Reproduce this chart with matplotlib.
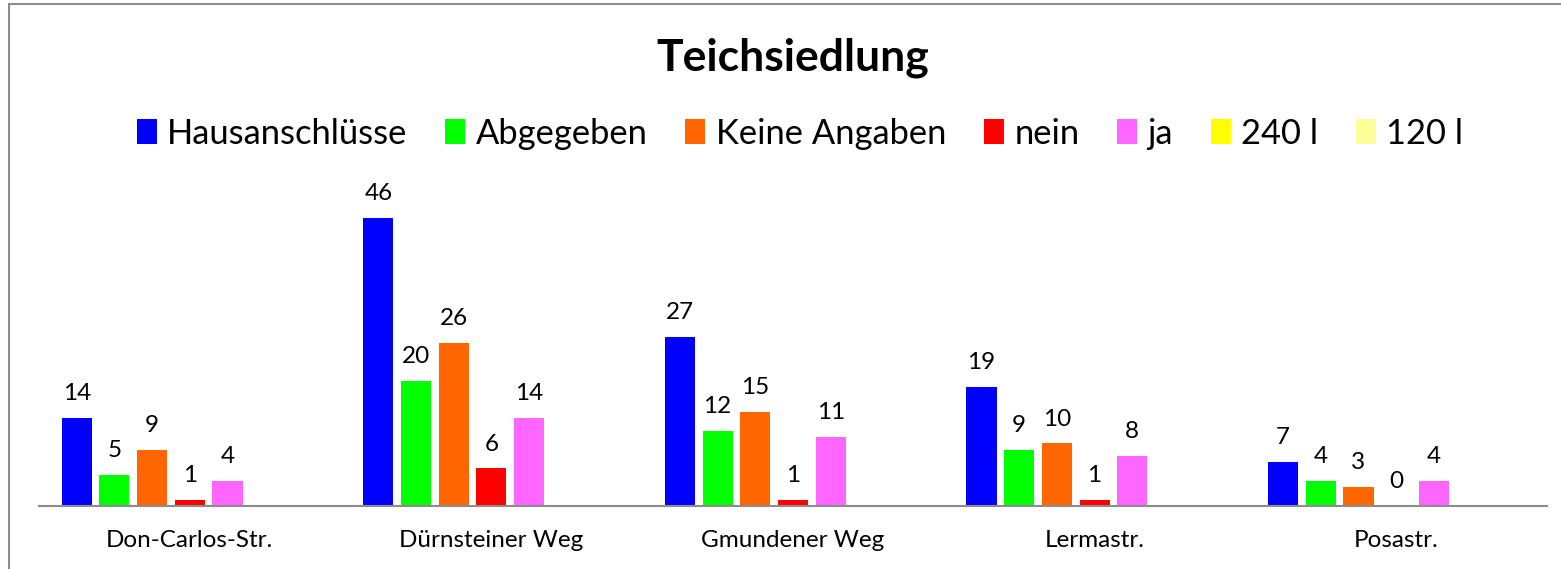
import numpy as np
import matplotlib
matplotlib.use("Agg")
import matplotlib.pyplot as plt
from matplotlib.patches import Rectangle

plt.rcParams['font.family'] = ['Lato', 'DejaVu Sans']

categories = ["Don-Carlos-Str.", "Dürnsteiner Weg", "Gmundener Weg", "Lermastr.", "Posastr."]
series_names = ["Hausanschlüsse", "Abgegeben", "Keine Angaben", "nein", "ja", "240 l", "120 l"]
hausanschluesse = [14, 46, 27, 19, 7]
abgegeben = [5, 20, 12, 9, 4]
keine_angaben = [9, 26, 15, 10, 3]
nein = [1, 6, 1, 1, 0]
ja = [4, 14, 11, 8, 4]
l240 = [None, None, None, None, None]
l120 = [None, None, None, None, None]
series_values = [hausanschluesse, abgegeben, keine_angaben, nein, ja, l240, l120]
colors = ["#0000FF", "#00FF00", "#FF6600", "#FF0000", "#FF66FF", "#FFFF00", "#FFFF99"]

W, H = 1561, 569
fig = plt.figure(figsize=(W / 100, H / 100), dpi=100)

# outer chart frame (partially cut off on right/bottom)
fig.patches.append(Rectangle((9 / W, -0.1), 1.2, 1.1 - 4.5 / H, transform=fig.transFigure,
                             fill=False, edgecolor="#8c8c8c", linewidth=1.5))

left, right = 39 / W, 1547 / W
bottom, top = (H - 506) / H, (H - 175) / H
ax = fig.add_axes([left, bottom, right - left, top - bottom])

n = len(series_names)
pitch = 0.125
bw = 0.0995
x = np.arange(len(categories))
for i, (name, vals, c) in enumerate(zip(series_names, series_values, colors)):
    v = np.array([np.nan if a is None else a for a in vals], dtype=float)
    pos = x + (i - (n - 1) / 2) * pitch
    ax.bar(pos, np.nan_to_num(v, nan=0.0), width=bw, color=c, label=name, edgecolor='none')
    for p, val in zip(pos, v):
        if not np.isnan(val):
            ax.annotate(f"{int(val)}", (p, val), xytext=(0, 10), textcoords="offset points",
                        ha="center", va="bottom", fontsize=17.5, color="black")

ax.set_xlim(-0.5, len(categories) - 0.5)
ax.set_ylim(0, (506 - 175) / 6.26)
ax.set_xticks(x)
ax.set_xticklabels(categories, fontsize=17.5)
ax.tick_params(axis='x', length=0, pad=17)
ax.set_yticks([])
for s in ["left", "right", "top"]:
    ax.spines[s].set_visible(False)
ax.spines["bottom"].set_color("#8c8c8c")
ax.spines["bottom"].set_linewidth(1.5)

fig.text(793 / W, 1 - 58 / H, "Teichsiedlung", ha="center", va="center",
         fontsize=32, fontweight="bold")

fig.legend(loc="center", bbox_to_anchor=(800 / W, 1 - 133.5 / H), ncol=7, frameon=False,
           fontsize=24.8, handlelength=0.58, handleheight=0.7, handletextpad=0.3,
           columnspacing=1.1, borderaxespad=0)

fig.savefig("out.png", dpi=100)
